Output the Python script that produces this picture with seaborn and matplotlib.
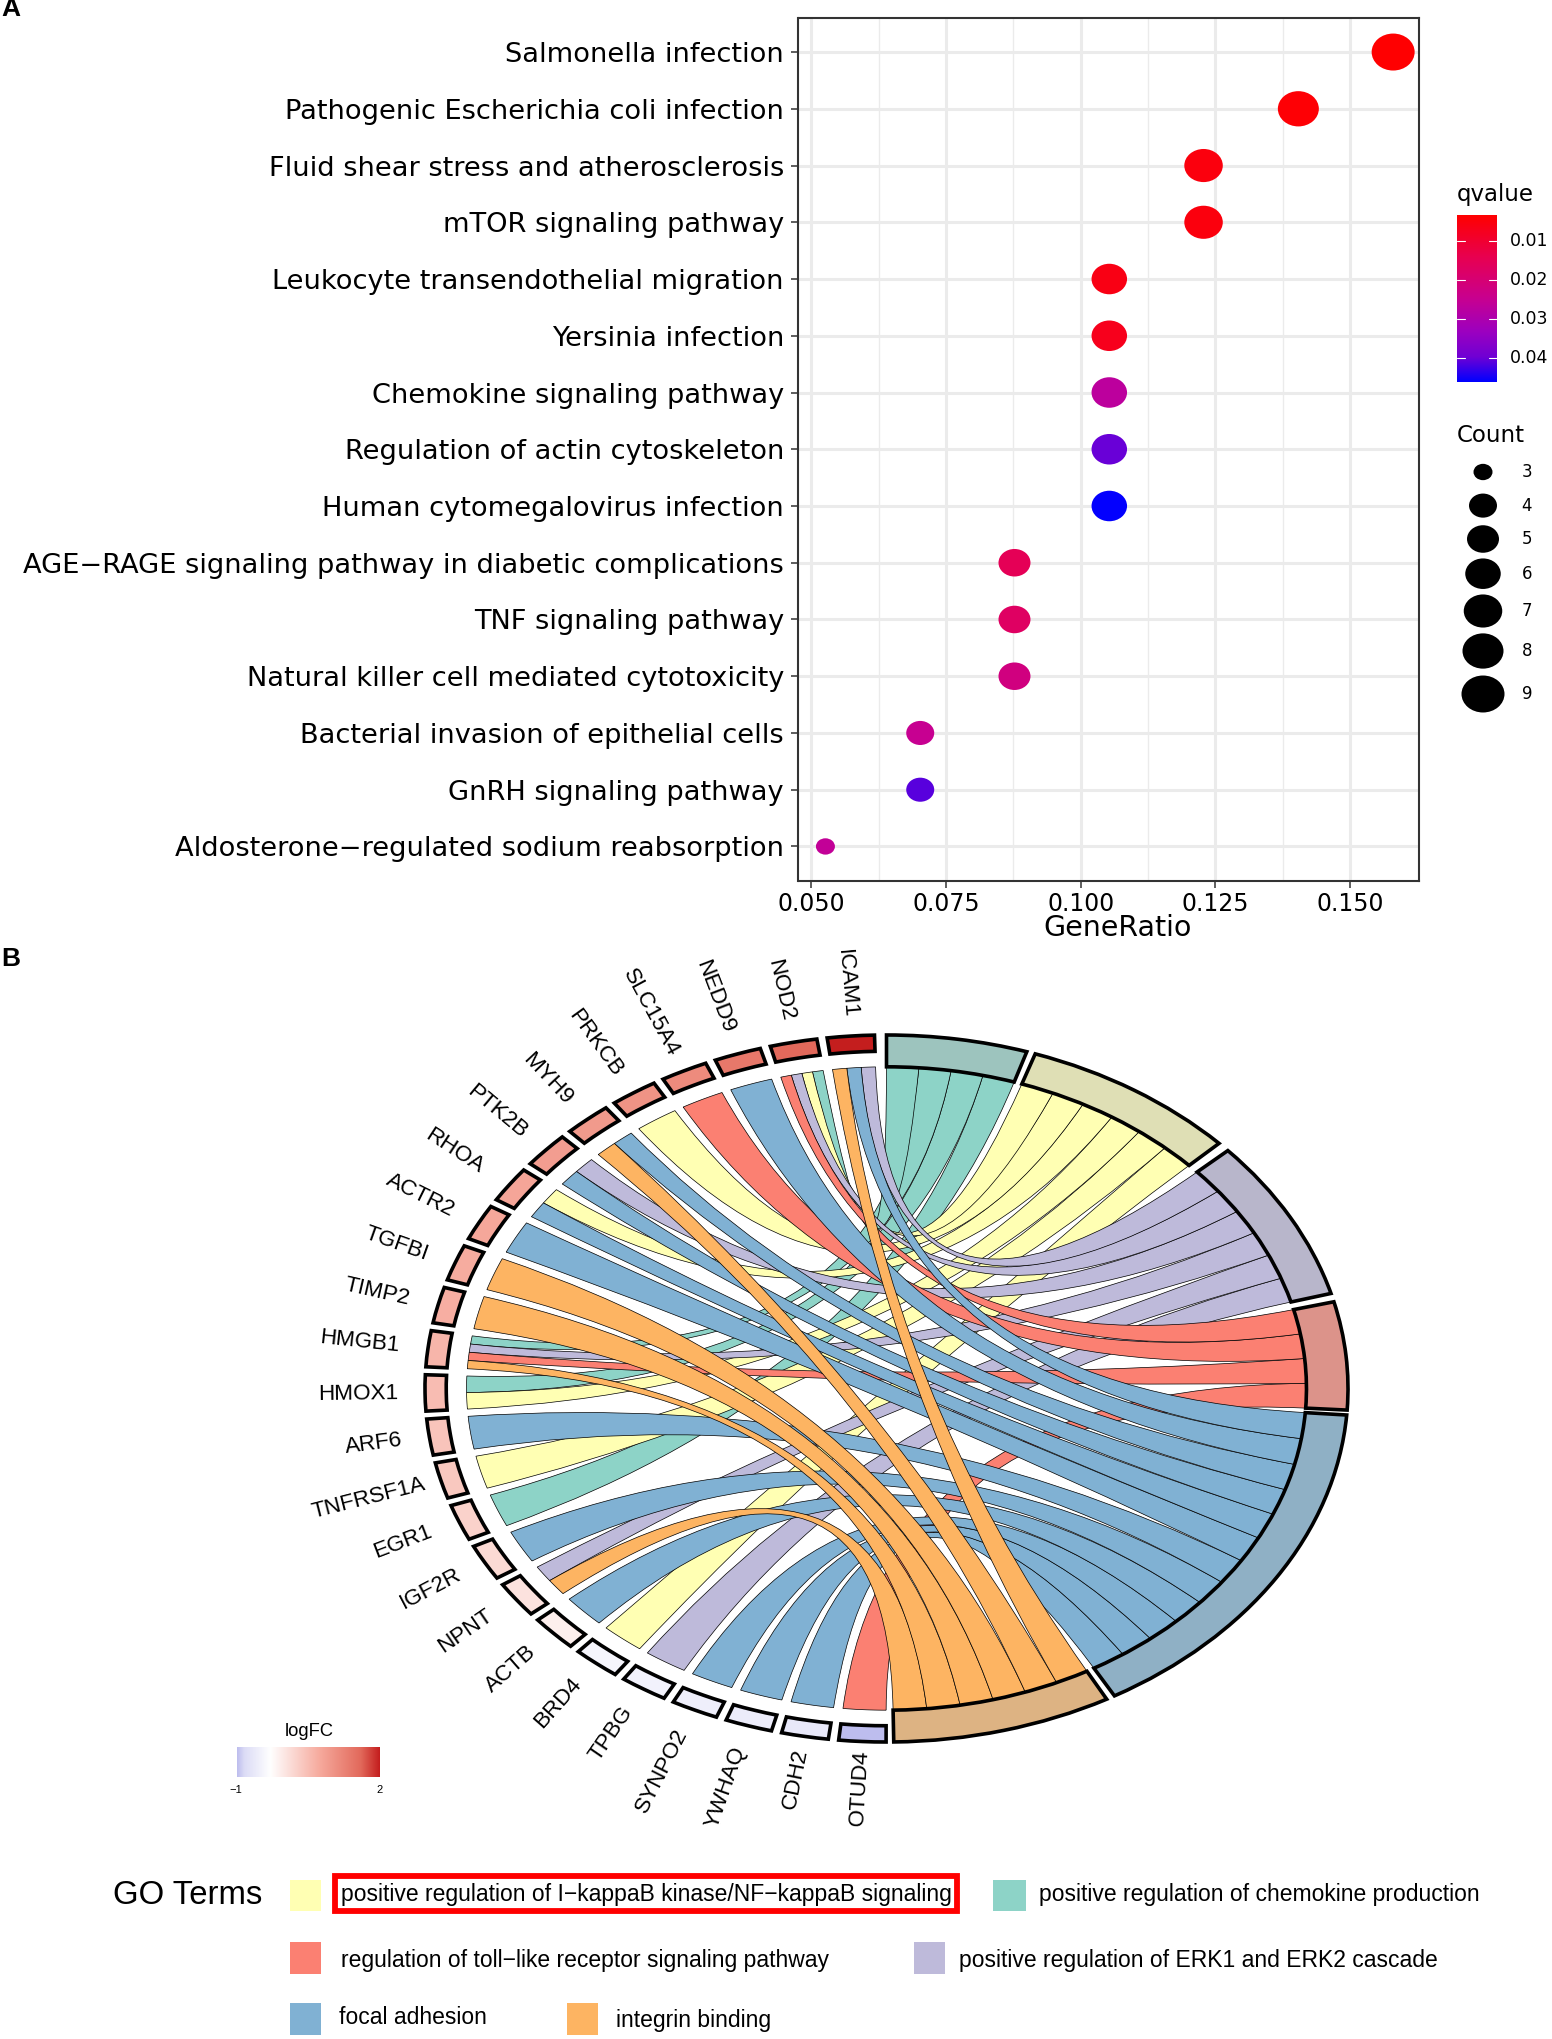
import numpy as np
import pandas as pd
import matplotlib
matplotlib.use("Agg")
import matplotlib.pyplot as plt
from matplotlib.colors import LinearSegmentedColormap, Normalize
from matplotlib.path import Path
from matplotlib.patches import PathPatch, Wedge, Rectangle
from matplotlib.transforms import Affine2D
import seaborn as sns

# ---------- data: panel A ----------
pathways = ["Salmonella infection", "Pathogenic Escherichia coli infection",
            "Fluid shear stress and atherosclerosis", "mTOR signaling pathway",
            "Leukocyte transendothelial migration", "Yersinia infection",
            "Chemokine signaling pathway", "Regulation of actin cytoskeleton",
            "Human cytomegalovirus infection",
            "AGE\u2212RAGE signaling pathway in diabetic complications",
            "TNF signaling pathway", "Natural killer cell mediated cytotoxicity",
            "Bacterial invasion of epithelial cells", "GnRH signaling pathway",
            "Aldosterone\u2212regulated sodium reabsorption"]
gene_ratio = [0.158, 0.1404, 0.1228, 0.1228, 0.1053, 0.1053, 0.1053, 0.1053, 0.1053,
              0.0877, 0.0877, 0.0877, 0.0702, 0.0702, 0.0526]
qvalues = [0.0035, 0.004, 0.005, 0.005, 0.006, 0.007, 0.027, 0.040, 0.046,
           0.015, 0.017, 0.022, 0.025, 0.041, 0.026]
counts = [9, 8, 7, 7, 6, 6, 6, 6, 6, 5, 5, 5, 4, 4, 3]
legend_counts = [3, 4, 5, 6, 7, 8, 9]
q_ticks = [0.01, 0.02, 0.03, 0.04]
x_ticks = [0.050, 0.075, 0.100, 0.125, 0.150]

# ---------- data: panel B ----------
genes = ["OTUD4", "CDH2", "YWHAQ", "SYNPO2", "TPBG", "BRD4", "ACTB", "NPNT", "IGF2R",
         "EGR1", "TNFRSF1A", "ARF6", "HMOX1", "HMGB1", "TIMP2", "TGFBI", "ACTR2",
         "RHOA", "PTK2B", "MYH9", "PRKCB", "SLC15A4", "NEDD9", "NOD2", "ICAM1"]
logfc = [-1.0, -0.65, -0.6, -0.55, -0.5, -0.45, -0.1, 0.05, 0.15, 0.25, 0.38, 0.42,
         0.52, 0.6, 0.68, 0.72, 0.78, 0.8, 0.9, 0.95, 1.05, 1.15, 1.4, 1.6, 2.0]
go_terms = ["positive regulation of chemokine production",
            "positive regulation of I\u2212kappaB kinase/NF\u2212kappaB signaling",
            "positive regulation of ERK1 and ERK2 cascade",
            "regulation of toll\u2212like receptor signaling pathway",
            "focal adhesion", "integrin binding"]
term_genes = [
    ["NOD2", "HMGB1", "HMOX1", "EGR1"],
    ["NOD2", "PRKCB", "RHOA", "HMOX1", "TNFRSF1A", "BRD4"],
    ["ICAM1", "NOD2", "PTK2B", "HMGB1", "NPNT", "TPBG"],
    ["NOD2", "SLC15A4", "HMGB1", "OTUD4"],
    ["ICAM1", "NEDD9", "MYH9", "PTK2B", "RHOA", "ACTR2", "ARF6", "IGF2R", "ACTB",
     "SYNPO2", "YWHAQ", "CDH2"],
    ["ICAM1", "MYH9", "TGFBI", "TIMP2", "HMGB1", "NPNT"],
]

# ---------- layout and style ----------
W, H = 1552, 2039
sns.set_theme(style="white")
plt.rcParams["font.family"] = ["DejaVu Sans"]
ARIAL = ["Liberation Sans", "DejaVu Sans"]
fig = plt.figure(figsize=(W / 100, H / 100), dpi=100, facecolor="white")


def px_axes(left, top, right, bottom, **kw):
    return fig.add_axes([left / W, 1 - bottom / H, (right - left) / W, (bottom - top) / H], **kw)


overlay = px_axes(0, 0, W, H)
overlay.set_xlim(0, W)
overlay.set_ylim(H, 0)
overlay.axis("off")
overlay.set_zorder(5)
overlay.patch.set_alpha(0)

# ---------- panel A ----------
q_cmap = LinearSegmentedColormap.from_list(
    "q", [(0.0, "#FF0000"), (0.25, "#E80050"), (0.5, "#C80090"), (0.7, "#9C00C0"),
          (0.85, "#7000D4"), (1.0, "#0000FF")])
Q_MIN, Q_MAX = 0.0032, 0.0462
q_norm = Normalize(Q_MIN, Q_MAX)
WIDTHS_PX = {3: 19, 4: 28, 5: 32, 6: 35.5, 7: 38.5, 8: 41, 9: 43}
size_map = {k: (v * 0.72) ** 2 for k, v in WIDTHS_PX.items()}
ellipse = Path.unit_circle().transformed(Affine2D().scale(1, 0.86))

dfA = pd.DataFrame({"pathway": pathways, "GeneRatio": gene_ratio,
                    "qvalue": qvalues, "Count": counts})
axA = px_axes(798.5, 18, 1419, 880.5)
sns.scatterplot(data=dfA, x="GeneRatio", y="pathway", hue="qvalue", hue_norm=q_norm,
                palette=q_cmap, size="Count", sizes=size_map, marker=ellipse,
                linewidth=0, legend=False, ax=axA, zorder=3)
axA.set_xlim(0.0476, 0.1628)
axA.set_ylim(len(pathways) - 0.4, -0.6)
axA.set_xticks(x_ticks)
axA.set_xticklabels([f"{t:.3f}" for t in x_ticks], fontsize=17, color="black")
axA.set_xticks([0.0625, 0.0875, 0.1125, 0.1375], minor=True)
axA.tick_params(axis="y", labelsize=19.6, labelcolor="black", length=5, width=1.1,
                color="#333333", left=True, pad=5.5)
axA.tick_params(axis="x", which="major", length=5, width=1.1, color="#333333", bottom=True, pad=3)
axA.tick_params(axis="x", which="minor", length=0)
axA.set_axisbelow(True)
axA.grid(True, which="major", color="#EBEBEB", linewidth=2.2)
axA.grid(True, which="minor", axis="x", color="#EBEBEB", linewidth=1.0)
axA.set_ylabel("")
axA.set_xlabel("GeneRatio", fontsize=20.5, color="black", labelpad=-1, x=0.514)
for s in axA.spines.values():
    s.set_color("#333333")
    s.set_linewidth(1.5)

overlay.text(1457, 195, "qvalue", fontsize=16.5, va="center", ha="left", color="black")
cax = px_axes(1457, 215, 1497, 382)
cax.imshow(np.linspace(Q_MIN, Q_MAX, 256)[:, None], aspect="auto", cmap=q_cmap, norm=q_norm,
           extent=[0, 1, Q_MAX, Q_MIN])
cax.set_xticks([])
cax.set_yticks([])
for s in cax.spines.values():
    s.set_visible(False)
for q in q_ticks:
    cax.plot([0, 0.2], [q, q], color="white", lw=0.8)
    cax.plot([0.8, 1], [q, q], color="white", lw=0.8)
    cax.text(1.32, q, f"{q:.2f}", transform=cax.get_yaxis_transform(), fontsize=12.5,
             va="center", ha="left", color="black")
cax.set_xlim(0, 1)
cax.set_ylim(Q_MAX, Q_MIN)

overlay.text(1457, 435, "Count", fontsize=16.5, va="center", ha="left", color="black")
legend_y = [472, 505.6, 539, 573.7, 611, 651, 694]
dfL = pd.DataFrame({"x": [1483] * len(legend_counts), "y": legend_y, "Count": legend_counts})
sns.scatterplot(data=dfL, x="x", y="y", size="Count", sizes=size_map, marker=ellipse,
                color="black", linewidth=0, legend=False, ax=overlay)
overlay.set_xlim(0, W)
overlay.set_ylim(H, 0)
overlay.axis("off")
for y, c in zip(legend_y, legend_counts):
    overlay.text(1527, y, str(c), fontsize=12, va="center", ha="center", color="black")

overlay.text(1, 9, "A", fontsize=19, fontweight="bold", va="center", ha="left",
             family=ARIAL, color="black")
overlay.text(1, 959, "B", fontsize=19, fontweight="bold", va="center", ha="left",
             family=ARIAL, color="black")

# ---------- panel B ----------
CX, CY, RX, RY = 886.5, 1388.5, 461.5, 353.5
PAD = 1.12
axB = px_axes(CX - PAD * RX, CY - PAD * RY, CX + PAD * RX, CY + PAD * RY)
axB.set_xlim(-PAD, PAD)
axB.set_ylim(-PAD, PAD)
axB.axis("off")

term_colors = list(sns.color_palette("Set3", 6))
term_ring_colors = ["#9DC4BE", "#DFDFB5", "#B8B6CB", "#DC938A", "#8FB0C5", "#DDB383"]
term_spans = [(90.0, 72.3), (71.2, 43.9), (42.3, 15.6), (14.2, -3.5), (-4.3, -60.4), (-61.5, -89.1)]

fc_cmap = LinearSegmentedColormap.from_list(
    "fc", [(0.0, "#BDBDEE"), (0.05, "#DCDCF6"), (0.233, "#FFFFFF"), (0.583, "#F6A99C"),
           (0.867, "#E2695B"), (1.0, "#C41E1E")])
fc_norm = Normalize(-1, 2)

R_IN = 0.91
GENE_R_IN = 0.954
GENE_W = 5.9
GENE_STEP = 7.19
gene_center = {g: 267.0 - GENE_STEP * i for i, g in enumerate(genes)}
label_r = {"OTUD4": 1.022, "CDH2": 1.035, "TNFRSF1A": 1.036, "EGR1": 1.065, "NPNT": 1.068,
           "RHOA": 1.075, "HMOX1": 1.058, "ARF6": 1.06, "SLC15A4": 1.05, "ICAM1": 1.05}


def pt(a, r=R_IN):
    return (r * np.cos(np.radians(a)), r * np.sin(np.radians(a)))


def arc(a0, a1, n=12):
    return [pt(a) for a in np.linspace(a0, a1, n)]


# sub-sector of each gene: ribbons ordered from last term to first, clockwise
gene_slots = {}
for g in genes:
    members = [t for t in range(len(go_terms) - 1, -1, -1) if g in term_genes[t]]
    c = gene_center[g]
    step = GENE_W / len(members)
    for k, t in enumerate(members):
        hi = c + GENE_W / 2 - k * step
        gene_slots[(g, t)] = (hi, hi - step)

for t, members in enumerate(term_genes):
    start, end = term_spans[t]
    step = (start - end) / len(members)
    for k in range(len(members) - 1, -1, -1):
        g = members[k]
        t_hi = start - k * step
        t_lo = t_hi - step
        g_hi, g_lo = gene_slots[(g, t)]
        verts, codes = [], []
        ga = arc(g_hi, g_lo)
        verts += ga
        codes += [Path.MOVETO] + [Path.LINETO] * (len(ga) - 1)
        verts += [(0, 0), pt(t_hi)]
        codes += [Path.CURVE3, Path.CURVE3]
        ta = arc(t_hi, t_lo)[1:]
        verts += ta
        codes += [Path.LINETO] * len(ta)
        verts += [(0, 0), pt(g_hi)]
        codes += [Path.CURVE3, Path.CURVE3]
        axB.add_patch(PathPatch(Path(verts, codes), facecolor=term_colors[t], edgecolor="black",
                                linewidth=0.5, zorder=2 + t * 0.1))

for t, (start, end) in enumerate(term_spans):
    axB.add_patch(Wedge((0, 0), 1.0, end, start, width=1.0 - R_IN, facecolor=term_ring_colors[t],
                        edgecolor="black", linewidth=2.6, zorder=4))

for g, fc in zip(genes, logfc):
    c = gene_center[g]
    axB.add_patch(Wedge((0, 0), 1.0, c - GENE_W / 2, c + GENE_W / 2, width=1.0 - GENE_R_IN,
                        facecolor=fc_cmap(fc_norm(fc)), edgecolor="black", linewidth=2.6, zorder=4))
    x, y = pt(c, label_r.get(g, 1.063))
    rot = np.degrees(np.arctan2(RY * np.sin(np.radians(c)), RX * np.cos(np.radians(c)))) % 360 - 180
    rot += 5 * np.sin(np.radians(2 * (c - 180)))
    axB.text(x, y, g, rotation=rot, rotation_mode="anchor", ha="right", va="center",
             fontsize=16.2, family=ARIAL, color="black", zorder=5)

# logFC colour bar
overlay.text(309, 1732, "logFC", fontsize=13.2, ha="center", va="center", family=ARIAL, color="black")
fcax = px_axes(237, 1747, 380, 1777)
fcax.imshow(np.linspace(-1, 2, 256)[None, :], aspect="auto", cmap=fc_cmap, norm=fc_norm,
            extent=[-1, 2, 0, 1])
fcax.set_xticks([])
fcax.set_yticks([])
for s in fcax.spines.values():
    s.set_visible(False)
overlay.text(236, 1790, "\u22121", fontsize=8, ha="center", va="center", family=ARIAL, color="black")
overlay.text(380, 1790, "2", fontsize=8, ha="center", va="center", family=ARIAL, color="black")

# GO Terms legend
overlay.text(113, 1895, "GO Terms", fontsize=23.7, ha="left", va="center", family=ARIAL, color="black")
legend_cells = [  # term index, swatch x0, swatch x1, swatch y0, swatch y1, text x, text y
    (1, 290, 321, 1880, 1911, 341, 1895),
    (0, 993, 1026, 1880, 1911, 1039, 1895),
    (3, 290, 321, 1942, 1974, 341, 1960),
    (2, 914, 945, 1942, 1974, 959, 1960),
    (4, 290, 321, 2003, 2035, 339, 2018),
    (5, 567, 598, 2003, 2035, 616, 2021),
]
for t, x0, x1, y0, y1, tx, ty in legend_cells:
    overlay.add_patch(Rectangle((x0, y0), x1 - x0, y1 - y0, facecolor=term_colors[t], edgecolor="none"))
    overlay.text(tx, ty, go_terms[t], fontsize=16.5, ha="left", va="center", family=ARIAL, color="black")
overlay.add_patch(Rectangle((335, 1876), 622, 34.5, facecolor="none", edgecolor="#FF0000", linewidth=4.2))

fig.savefig("out.png", dpi=100)
